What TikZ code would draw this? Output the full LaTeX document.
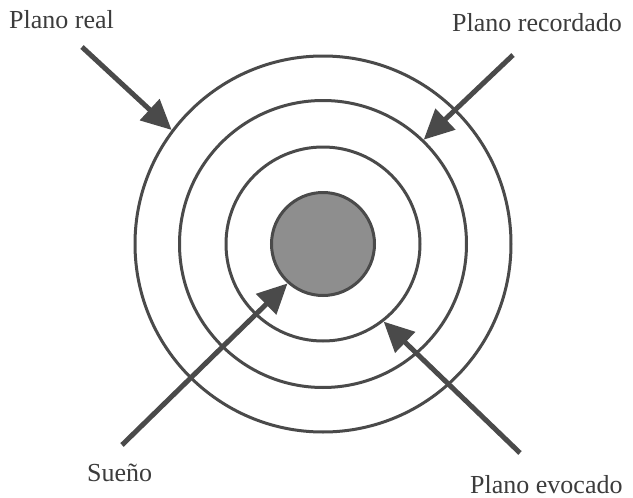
\documentclass[tikz,border=0pt]{standalone}
\usepackage{fontspec}
\setmainfont{Liberation Serif}
\usetikzlibrary{arrows.meta}
\definecolor{ink}{HTML}{4A4A4A}
\definecolor{dots}{HTML}{8E8E8E}
\definecolor{txt}{HTML}{3C3C3C}
\begin{document}
\begin{tikzpicture}[x=1pt,y=-1pt,
  ring/.style={circle, draw=ink, line width=3pt, inner sep=0pt},
  pointer/.style={draw=ink, line width=5pt, -{Triangle[length=30pt,width=28pt]}},
  lbl/.style={font=\fontsize{26}{30}\selectfont, text=txt, inner sep=0pt, anchor=base west}]
\useasboundingbox (0,0) rectangle (633,498);
\coordinate (c) at (323,244);
\node[ring, minimum size=376pt] (outer) at (c) {};
\node[ring, minimum size=287pt] (middle) at (c) {};
\node[ring, minimum size=194pt] (inner) at (c) {};
\node[ring, fill=dots, minimum size=103pt] (core) at (c) {};
\coordinate (sreal) at (82,47);
\coordinate (srec) at (513,55);
\coordinate (ssue) at (122,445);
\coordinate (sevo) at (520,453);
\draw[pointer] (sreal) -- (outer.143.6);
\draw[pointer] (srec) -- (middle.46.3);
\draw[pointer] (ssue) -- (core.228.5);
\draw[pointer] (sevo) -- (inner.308.2);
\node[lbl] (treal) at (9,28) {Plano real};
\node[lbl] (trec) at (452,31) {Plano recordado};
\node[lbl] (tsue) at (87,481) {Sueño};
\node[lbl] (tevo) at (470,493) {Plano evocado};
\end{tikzpicture}
\end{document}
